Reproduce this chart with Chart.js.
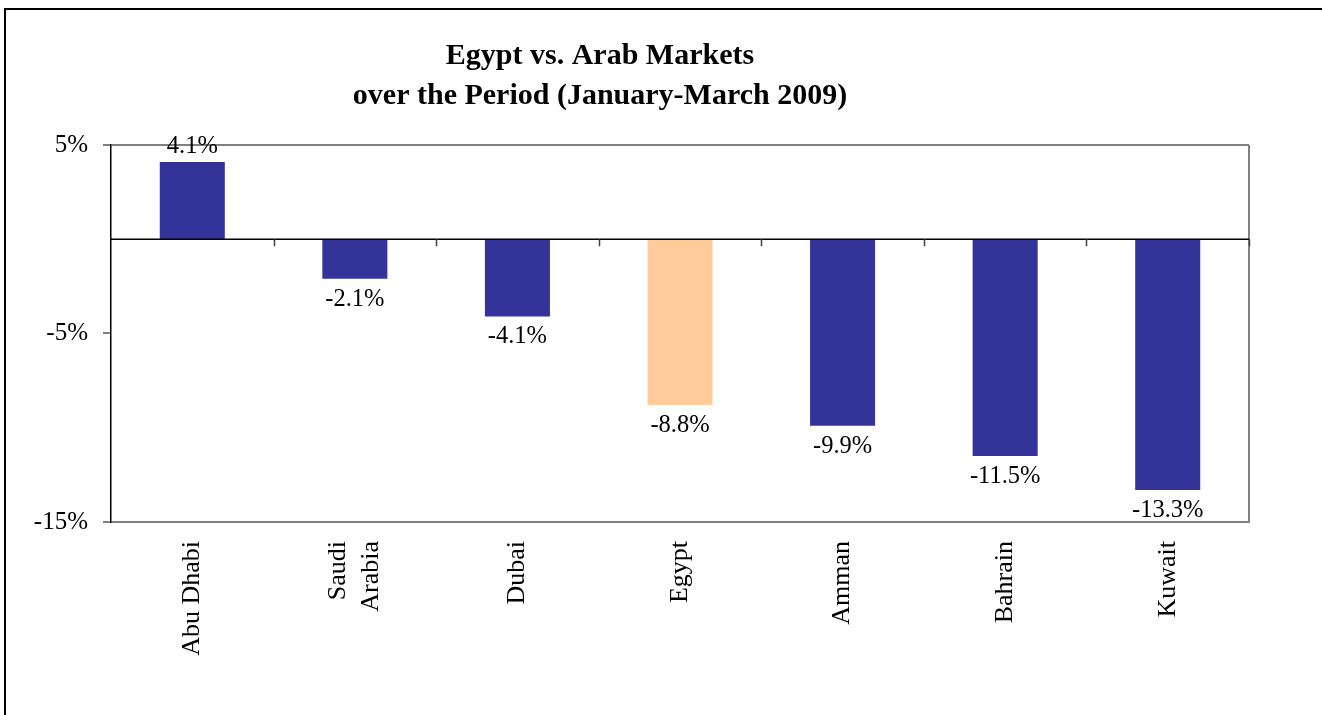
<!DOCTYPE html>
<html>
<head>
<meta charset="utf-8">
<script src="https://cdn.jsdelivr.net/npm/chart.js@4/dist/chart.umd.min.js"></script>
<style>
  html, body { margin: 0; padding: 0; background: #fff; overflow: hidden; }
  #wrap { position: relative; width: 1322px; height: 715px; }
  #frame { position: absolute; left: 4px; top: 8px; width: 1400px; height: 800px;
           border-left: 2px solid #000; border-top: 2px solid #000; pointer-events: none; }
  canvas { position: absolute; left: 0; top: 0; }
</style>
</head>
<body>
<div id="wrap">
  <canvas id="c" width="1322" height="715"></canvas>
  <div id="frame"></div>
</div>
<script>
const categories = ['Abu Dhabi', ['Saudi', 'Arabia'], 'Dubai', 'Egypt', 'Amman', 'Bahrain', 'Kuwait'];
const changes = [4.1, -2.1, -4.1, -8.8, -9.9, -11.5, -13.3];
const barColors = ['#333399', '#333399', '#333399', '#FFCC99', '#333399', '#333399', '#333399'];
const yTickValues = [5, -5, -15];
const titleLines = ['Egypt vs. Arab Markets', 'over the Period (January-March 2009)'];

const FONT = "'Liberation Serif', 'Times New Roman', serif";
const CAT_FONT_SIZE = 26;
const CAT_LINE_HEIGHT = 1.27;

// centre multi-line rotated category labels on their tick
const labelCenterPlugin = {
  id: 'labelCenter',
  beforeDraw(chart) {
    const xs = chart.scales.x;
    const items = xs.getLabelItems();
    if (items._centered) return;
    const lh = CAT_FONT_SIZE * CAT_LINE_HEIGHT;
    items.forEach(it => {
      if (Array.isArray(it.label) && it.label.length > 1) {
        it.textOffset -= (it.label.length - 1) * lh / 2;
      }
    });
    items._centered = true;
  }
};

const decorPlugin = {
  id: 'decor',
  afterDatasetsDraw(chart) {
    const ctx = chart.ctx;
    const area = chart.chartArea;
    const xs = chart.scales.x, ys = chart.scales.y;
    const y0 = ys.getPixelForValue(0);
    ctx.save();
    // right border
    ctx.strokeStyle = '#808080';
    ctx.lineWidth = 2;
    ctx.beginPath();
    ctx.moveTo(area.right, area.top);
    ctx.lineTo(area.right, area.bottom);
    ctx.stroke();
    // zero line
    ctx.strokeStyle = '#000';
    ctx.lineWidth = 1.5;
    ctx.beginPath();
    ctx.moveTo(area.left, y0);
    ctx.lineTo(area.right, y0);
    ctx.stroke();
    // category tick marks on zero line
    ctx.strokeStyle = '#404040';
    ctx.lineWidth = 1.5;
    for (let i = 1; i <= categories.length; i++) {
      const x = Math.round(xs.getPixelForValue(i - 0.5)) + 0.5;
      ctx.beginPath();
      ctx.moveTo(x, y0);
      ctx.lineTo(x, y0 + 7);
      ctx.stroke();
    }
    // data labels
    ctx.fillStyle = '#000';
    ctx.font = '24.5px ' + FONT;
    ctx.textAlign = 'center';
    const meta = chart.getDatasetMeta(0);
    meta.data.forEach((el, i) => {
      const v = changes[i];
      const txt = v.toFixed(1) + '%';
      if (v >= 0) {
        ctx.textBaseline = 'alphabetic';
        ctx.fillText(txt, el.x, el.y - 9);
      } else {
        ctx.textBaseline = 'top';
        ctx.fillText(txt, el.x, el.y + 8);
      }
    });
    ctx.restore();
  }
};

new Chart(document.getElementById('c'), {
  type: 'bar',
  data: {
    labels: categories,
    datasets: [{
      data: changes,
      backgroundColor: barColors,
      borderWidth: 0,
      categoryPercentage: 1.0,
      barPercentage: 0.4
    }]
  },
  options: {
    responsive: false,
    animation: false,
    devicePixelRatio: 1,
    layout: { padding: { left: -49, right: 73, top: 0, bottom: 0 } },
    plugins: {
      legend: { display: false },
      tooltip: { enabled: false },
      title: {
        display: true,
        text: titleLines,
        color: '#000',
        font: { family: FONT, size: 30, weight: 'bold', lineHeight: 1.333 },
        padding: { top: 36, bottom: 29 }
      }
    },
    scales: {
      x: {
        grid: { display: false, drawTicks: false },
        border: { display: true, color: '#808080', width: 2 },
        ticks: {
          color: '#000',
          font: { family: FONT, size: CAT_FONT_SIZE, lineHeight: CAT_LINE_HEIGHT },
          minRotation: 90,
          maxRotation: 90,
          padding: 19,
          autoSkip: false
        },
        afterFit(scale) { scale.height = 193; scale.paddingLeft = 0; scale.paddingRight = 0; }
      },
      y: {
        min: -15,
        max: 5,
        afterBuildTicks(scale) { scale.ticks = yTickValues.map(v => ({ value: v })); },
        grid: {
          color: ctx => (ctx.tick && ctx.tick.value === -5) ? 'rgba(0,0,0,0)' : '#808080',
          lineWidth: 2,
          drawTicks: true,
          tickLength: 8,
          tickColor: '#808080',
          tickWidth: 2
        },
        border: { display: true, color: '#000', width: 1.5 },
        ticks: {
          color: '#000',
          font: { family: FONT, size: 25 },
          padding: 15,
          callback: v => v + '%'
        },
        afterFit(scale) { scale.width = 160; scale.paddingTop = 0; scale.paddingBottom = 0; }
      }
    }
  },
  plugins: [labelCenterPlugin, decorPlugin]
});
</script>
</body>
</html>
